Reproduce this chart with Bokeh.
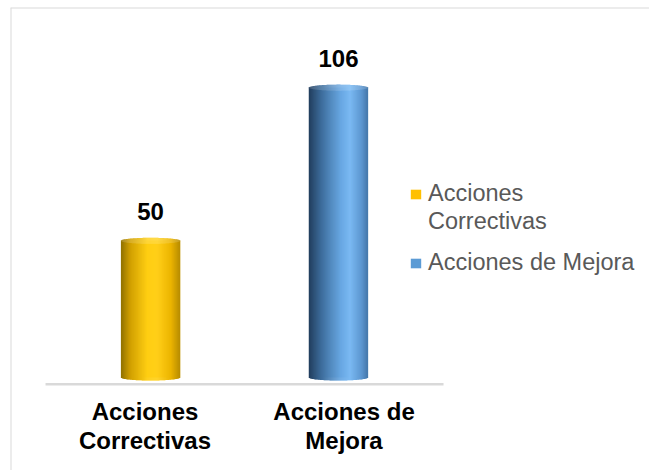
import numpy as np
from bokeh.plotting import figure
from bokeh.models import ColumnDataSource, Range1d, Legend, LegendItem, Span
from bokeh.core.properties import value
from bokeh.embed import file_html
from bokeh.resources import INLINE

# ---- data ----
categories = ["Acciones Correctivas", "Acciones de Mejora"]
axis_labels = ["Acciones\nCorrectivas", "Acciones de\nMejora"]
legend_lines = [["Acciones", "Correctivas"], ["Acciones de Mejora"]]
counts = [50, 106]

# ---- styles ----
solid_colors = ["#ffc000", "#5b9bd5"]
gradients = [
    [(0.0, "#8f7000"), (0.15, "#cf9e00"), (0.45, "#ffcf14"), (0.62, "#ffd01a"), (0.85, "#ebb400"), (1.0, "#b88c00")],
    [(0.0, "#223d5c"), (0.2, "#3b6a98"), (0.55, "#69a8e4"), (0.7, "#7bbaf3"), (0.9, "#5b95cf"), (1.0, "#4477aa")],
]
BAR_W = 0.296
RY = 1.1
NSTRIP = 60
INWARD = 0.056
BORDER = "#d9d9d9"


def hex2rgb(h):
    h = h.lstrip("#")
    return np.array([int(h[i:i + 2], 16) for i in (0, 2, 4)], dtype=float)


def grad_color(stops, u, lighten=0.0):
    for (u0, c0), (u1, c1) in zip(stops[:-1], stops[1:]):
        if u0 <= u <= u1:
            t = (u - u0) / (u1 - u0) if u1 > u0 else 0
            rgb = hex2rgb(c0) * (1 - t) + hex2rgb(c1) * t
            break
    else:
        rgb = hex2rgb(stops[-1][1])
    rgb = rgb * (1 - lighten) + 255 * lighten
    return "#%02x%02x%02x" % tuple(int(round(c)) for c in rgb)


cat_x = [i + 0.5 for i in range(len(categories))]
bar_x = [c + (0.5 - i) * INWARD for i, c in enumerate(cat_x)]

body = dict(x=[], top=[], bottom=[], color=[])
cap = dict(x=[], top=[], bottom=[], color=[])
dw = BAR_W / NSTRIP
for i, (bx, v) in enumerate(zip(bar_x, counts)):
    for k in range(NSTRIP):
        u = (k + 0.5) / NSTRIP
        s = np.sqrt(max(0.0, 1 - (2 * u - 1) ** 2))
        xx = bx - BAR_W / 2 + (k + 0.5) * dw
        body["x"].append(xx)
        body["top"].append(v)
        body["bottom"].append(-RY * s)
        body["color"].append(grad_color(gradients[i], u))
        cap["x"].append(xx)
        cap["top"].append(v + RY * s)
        cap["bottom"].append(v - RY * s)
        cap["color"].append(grad_color(gradients[i], u, 0.15))

x_range = Range1d(-0.176, 3.035)
y_range = Range1d(-34.0, 135.3)
p = figure(width=649, height=470, x_range=x_range, y_range=y_range,
           output_backend="svg", toolbar_location=None,
           x_axis_location=None, y_axis_location=None,
           min_border_left=10, min_border_top=7, min_border_right=0, min_border_bottom=0)
p.xgrid.visible = False
p.ygrid.visible = False
p.outline_line_color = None
p.background_fill_color = "white"
p.border_fill_color = "white"

# chart border (left and top edges visible)
p.add_layout(Span(location=x_range.start, dimension="height", line_color=BORDER, line_width=2))
p.add_layout(Span(location=y_range.end, dimension="width", line_color=BORDER, line_width=2))

# baseline
p.segment(x0=[0], x1=[len(categories)], y0=[-2.5], y1=[-2.5],
          line_color=BORDER, line_width=2.5)

# solid bars (legend swatches, hidden under the gradient)
solid_renderers = []
for i in range(len(categories)):
    r = p.vbar(x=[bar_x[i]], top=[counts[i]], bottom=[0], width=BAR_W,
               fill_color=solid_colors[i], line_color=None)
    solid_renderers.append(r)

p.vbar(x="x", top="top", bottom="bottom", width=dw * 1.5, fill_color="color",
       line_color=None, source=ColumnDataSource(body))
p.vbar(x="x", top="top", bottom="bottom", width=dw * 1.5, fill_color="color",
       line_color=None, source=ColumnDataSource(cap))

# value labels
p.text(x=bar_x, y=counts, text=[str(c) for c in counts], text_align="center",
       text_baseline="alphabetic", y_offset=-29,
       text_font=value("Liberation Sans"), text_font_style="bold",
       text_font_size="24px", text_color="black")

# category labels
p.text(x=cat_x, y=[0] * len(cat_x), text=axis_labels, text_align="center",
       text_baseline="top", y_offset=20, text_line_height=1.1,
       text_font=value("Liberation Sans"), text_font_style="bold",
       text_font_size="24px", text_color="black")

legend_style = dict(padding=0, margin=0, border_line_color=None, background_fill_alpha=0,
                    glyph_width=13, glyph_height=12, label_standoff=6, spacing=1,
                    label_text_font="Liberation Sans", label_text_font_size="23.5px",
                    label_text_color="#595959")
legend_locs = [(399, 235), (399, 194)]
for i in range(len(categories)):
    items = [LegendItem(label=legend_lines[i][0], renderers=[solid_renderers[i]])]
    items += [LegendItem(label=t, renderers=[]) for t in legend_lines[i][1:]]
    p.add_layout(Legend(items=items, location=legend_locs[i], **legend_style))

open("out.html", "w").write(file_html(p, INLINE))
